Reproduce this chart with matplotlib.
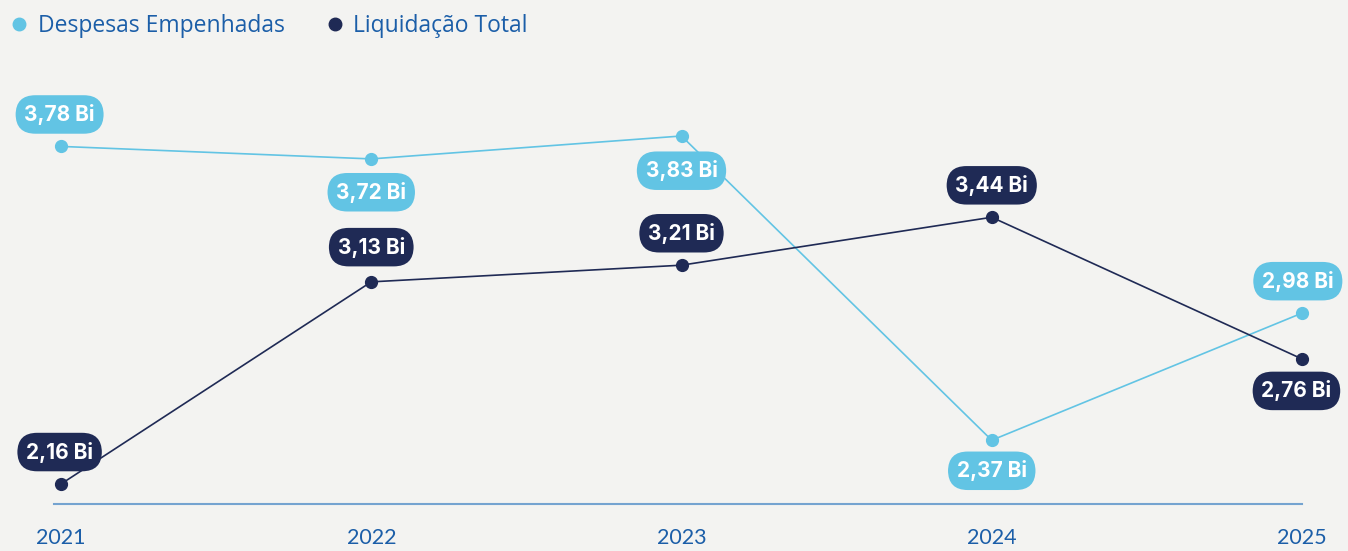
import matplotlib
matplotlib.use('Agg')
import matplotlib.pyplot as plt
from matplotlib.lines import Line2D

years = [2021, 2022, 2023, 2024, 2025]
empenhadas = [3.78, 3.72, 3.83, 2.37, 2.98]
liquidacao = [2.16, 3.13, 3.21, 3.44, 2.76]
emp_labels = ['3,78 Bi', '3,72 Bi', '3,83 Bi', '2,37 Bi', '2,98 Bi']
liq_labels = ['2,16 Bi', '3,13 Bi', '3,21 Bi', '3,44 Bi', '2,76 Bi']

light = '#62c4e4'
dark = '#1f2a55'
bg = '#f3f3f1'
blue_txt = '#1b5ea8'

def main():
    fig = plt.figure(figsize=(13.48, 5.51), dpi=100, facecolor=bg)
    ax = fig.add_axes([0, 47 / 551, 1, 504 / 551])
    ax.set_facecolor(bg)

    ax.plot(years, empenhadas, color=light, lw=1.2, marker='o', ms=8.5, zorder=3)
    ax.plot(years, liquidacao, color=dark, lw=1.2, marker='o', ms=8.5, zorder=3)

    # label offsets (points): + above, - below
    emp_off = [(-1, 23), (0, -24), (0, -25), (0, -22), (-3, 23)]
    liq_off = [(-1, 23), (0, 25), (0, 23), (0, 23), (-4, -23)]
    box = 'round,pad=0.42,rounding_size=0.95'
    for x, y, s, o in zip(years, empenhadas, emp_labels, emp_off):
        ax.annotate(s, (x, y), xytext=o, textcoords='offset points', ha='center', va='center',
                    fontsize=15, fontweight='bold', color='white', family='Inter', zorder=5,
                    bbox=dict(boxstyle=box, fc=light, ec='none'))
    for x, y, s, o in zip(years, liquidacao, liq_labels, liq_off):
        ax.annotate(s, (x, y), xytext=o, textcoords='offset points', ha='center', va='center',
                    fontsize=15, fontweight='bold', color='white', family='Inter', zorder=5,
                    bbox=dict(boxstyle=box, fc=dark, ec='none'))

    ax.set_xlim(2021 - 61 / 310.25, 2025 + 46 / 310.25)
    ax.set_ylim(2.064, 4.4826)

    for side in ['top', 'right', 'left']:
        ax.spines[side].set_visible(False)
    ax.spines['bottom'].set_color('#74a3d0')
    ax.spines['bottom'].set_linewidth(1.5)
    ax.spines['bottom'].set_bounds(2021 - 7 / 310.25, 2025)
    ax.set_yticks([])
    ax.set_xticks(years)
    ax.tick_params(axis='x', length=0, pad=17, labelsize=15.5, labelcolor=blue_txt)
    for t in ax.get_xticklabels():
        t.set_family('Lato')

    handles = [Line2D([], [], color=light, marker='o', ls='none', ms=9),
               Line2D([], [], color=dark, marker='o', ls='none', ms=9)]
    fig.legend(handles, ['Despesas Empenhadas', 'Liquidação Total'], loc='upper left',
               bbox_to_anchor=(-0.006, 1.003), ncol=2, frameon=False, handletextpad=0.3,
               columnspacing=1.7, handlelength=1.0, borderaxespad=0.3,
               prop={'family': 'Open Sans', 'size': 16.5}, labelcolor=blue_txt)

    fig.savefig('out.png', dpi=100, facecolor=bg)

if __name__ == '__main__':
    main()
